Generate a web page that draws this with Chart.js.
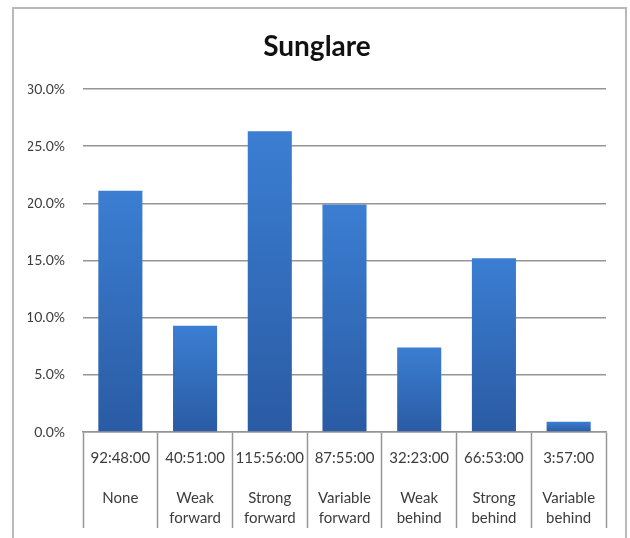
<!DOCTYPE html>
<html>
<head>
<meta charset="utf-8">
<script src="https://cdn.jsdelivr.net/npm/chart.js@4/dist/chart.umd.min.js"></script>
<style>
  html, body { margin: 0; padding: 0; background: #ffffff; }
  #wrap { position: relative; width: 630px; height: 538px; overflow: hidden; }
  #frame { position: absolute; left: 12px; top: 7px; width: 615px; height: 540px;
           border: 2px solid #b9b9b9; box-sizing: border-box; pointer-events: none; }
  canvas { position: absolute; left: 0; top: 0; }
</style>
</head>
<body>
<div id="wrap">
  <canvas id="chart" width="630" height="538"></canvas>
  <div id="frame"></div>
</div>
<script>
// Sunglare condition categories (each name split over table lines)
const categories = [
  ['None'],
  ['Weak', 'forward'],
  ['Strong', 'forward'],
  ['Variable', 'forward'],
  ['Weak', 'behind'],
  ['Strong', 'behind'],
  ['Variable', 'behind']
];

// Total time spent in each condition (h:mm:ss)
const durations = ['92:48:00', '40:51:00', '115:56:00', '87:55:00', '32:23:00', '66:53:00', '3:57:00'];

// Share of total time per condition, in percent
const shares = [21.1, 9.3, 26.3, 19.9, 7.4, 15.2, 0.9];

// Y axis tick values, in percent
const yTicks = [0, 5, 10, 15, 20, 25, 30];

const gridGrey = '#959595';
const textGrey = '#3c3c3c';

// Vertical blue gradient per bar, lighter at the top
function barFill(ctx) {
  const chart = ctx.chart;
  const y = chart.scales && chart.scales.y;
  if (!chart.chartArea || !y || ctx.type !== 'data') return '#3270c0';
  const top = y.getPixelForValue(ctx.raw);
  const base = y.getPixelForValue(0);
  const g = chart.ctx.createLinearGradient(0, top, 0, base);
  g.addColorStop(0, '#3b7ed2');
  g.addColorStop(1, '#2a5ba4');
  return g;
}

new Chart(document.getElementById('chart'), {
  type: 'bar',
  data: {
    labels: categories.map((c, i) => [durations[i], ''].concat(c)),
    datasets: [{
      label: 'Sunglare',
      data: shares,
      backgroundColor: barFill,
      borderWidth: 0,
      barPercentage: 0.59,
      categoryPercentage: 1.0
    }]
  },
  options: {
    responsive: false,
    animation: false,
    layout: { padding: { left: 28, right: 24, top: 0, bottom: 10 } },
    plugins: {
      legend: { display: false },
      tooltip: { enabled: false },
      title: {
        display: true,
        text: 'Sunglare',
        color: '#111111',
        font: { family: 'Lato', size: 28, weight: 'bold', lineHeight: 1.2 },
        padding: { top: 30, bottom: 25.4 }
      }
    },
    scales: {
      x: {
        position: 'bottom',
        afterFit: (s) => { s.height = 96; },
        border: { display: true, color: gridGrey, width: 1.5 },
        grid: {
          offset: true,
          drawOnChartArea: false,
          drawTicks: true,
          tickLength: 96,
          color: gridGrey,
          tickColor: gridGrey,
          tickWidth: 1.5
        },
        ticks: {
          color: textGrey,
          padding: -80,
          maxRotation: 0,
          autoSkip: false,
          font: { family: 'Lato', size: 15, lineHeight: '20px' }
        }
      },
      y: {
        min: 0,
        max: 30,
        afterFit: (s) => { s.width = 55; },
        afterBuildTicks: (s) => { s.ticks = yTicks.map(v => ({ value: v })); },
        border: { display: false },
        grid: { color: gridGrey, lineWidth: 1.5, drawTicks: false },
        ticks: {
          color: textGrey,
          padding: 18,
          font: { family: 'Lato', size: 14 },
          callback: (v) => v.toFixed(1) + '%'
        }
      }
    }
  }
});
</script>
</body>
</html>
